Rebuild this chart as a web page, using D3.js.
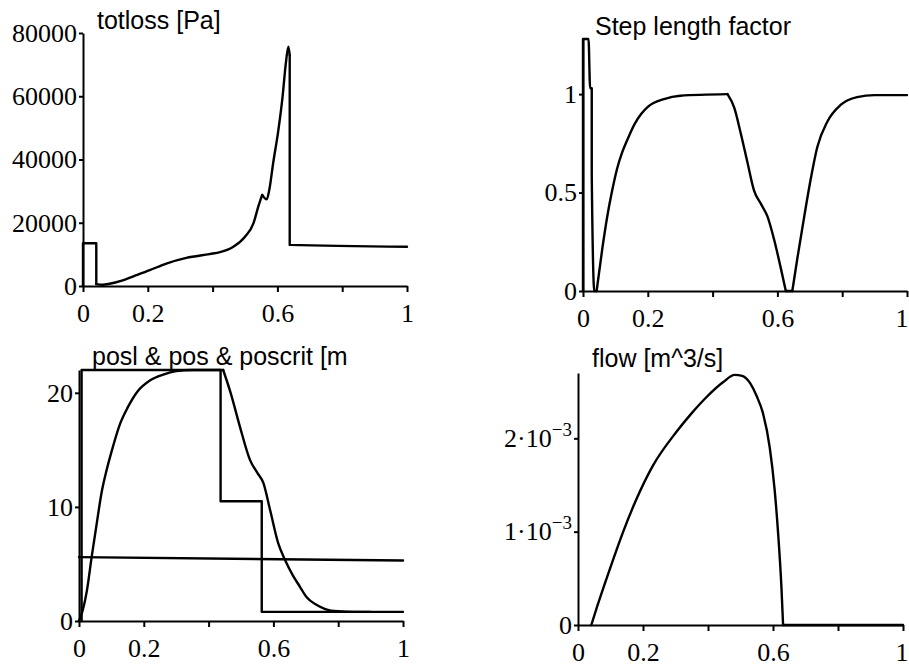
<!DOCTYPE html>
<html>
<head>
<meta charset="utf-8">
<script src="https://cdn.jsdelivr.net/npm/d3@7"></script>
<style>
  body { margin: 0; background: #fff; }
  svg { display: block; }
  .tick text { font-family: 'Liberation Serif', 'Times New Roman', serif; font-size: 26px; fill: #000; }
  .title { font-family: 'Liberation Sans', Arial, sans-serif; font-size: 25px; fill: #000; }
</style>
</head>
<body>
<div class="dashboard"></div>
<script>
// x axis is shared by all four panels
const xTicks = [0, 0.2, 0.4, 0.6, 0.8, 1];
const xTickLabels = ['0', '0.2', '', '0.6', '', '1'];

// every series is a list of pieces, each piece is drawn smooth,
// corners sit where one piece ends and the next one starts

// totloss [Pa]
const totlossTicks = [0, 20000, 40000, 60000, 80000];
const totlossLabels = ['0', '20000', '40000', '60000', '80000'];
const totloss = [
  [[0, 0], [0, 13500], [0.041, 13500], [0.041, 600]],
  [[0.041, 600], [0.06, 400], [0.082, 700], [0.12, 1700], [0.154, 3000], [0.206, 5000],
   [0.257, 7100], [0.319, 8900], [0.391, 10100], [0.423, 10700], [0.464, 12400],
   [0.5, 15600], [0.526, 19800], [0.541, 25100], [0.553, 28800]],
  [[0.553, 28800], [0.567, 27400], [0.575, 30400], [0.587, 38900], [0.603, 49300],
   [0.616, 59900], [0.626, 70400], [0.634, 75700], [0.638, 73000]],
  [[0.638, 73000], [0.638, 13000], [1, 12400]]
];

// Step length factor
const stepTicks = [0, 0.5, 1];
const stepLabels = ['0', '0.5', '1'];
const stepFactor = [
  [[0, 0], [0, 1.28], [0.017, 1.28], [0.022, 1.03], [0.027, 1.03], [0.027, 0.59],
   [0.035, 0], [0.042, 0]],
  [[0.042, 0], [0.06, 0.22], [0.075, 0.38], [0.09, 0.51], [0.105, 0.62], [0.12, 0.7],
   [0.14, 0.78], [0.16, 0.85], [0.18, 0.9], [0.2, 0.935], [0.25, 0.975], [0.3, 0.992],
   [0.446, 1.0]],
  [[0.446, 1.0], [0.467, 0.93], [0.487, 0.8], [0.508, 0.65], [0.528, 0.51], [0.55, 0.44],
   [0.569, 0.38], [0.59, 0.26], [0.61, 0.12], [0.626, 0]],
  [[0.626, 0], [0.646, 0]],
  [[0.646, 0], [0.662, 0.17], [0.682, 0.37], [0.703, 0.57], [0.723, 0.73], [0.754, 0.86],
   [0.795, 0.945], [0.846, 0.985], [0.9, 0.995], [1, 0.995]]
];

// posl & pos & poscrit [m]
const posTicks = [0, 10, 20];
const posLabels = ['0', '10', '20'];
const posl = [
  [[0.008, 0], [0.008, 22], [0.437, 22], [0.437, 10.5], [0.564, 10.5],
   [0.564, 0.8], [1, 0.8]]
];
const pos = [
  [[0, 0], [0.012, 1], [0.024, 2.6], [0.039, 5.6], [0.055, 8.6], [0.07, 11.3],
   [0.085, 13.2], [0.1, 14.8], [0.127, 17.3], [0.15, 18.7], [0.18, 20.1],
   [0.22, 21.1], [0.26, 21.6], [0.3, 21.9], [0.35, 22], [0.445, 22]],
  [[0.445, 22], [0.468, 20], [0.497, 17], [0.528, 14.1], [0.55, 13], [0.569, 12.1],
   [0.59, 9.7], [0.615, 6.8], [0.636, 5.35], [0.66, 4], [0.682, 3.0], [0.702, 2.1],
   [0.734, 1.4], [0.76, 1.05], [0.8, 0.85], [0.85, 0.8], [0.9, 0.8]]
];
const poscrit = [[[0, 5.6], [1, 5.3]]];

// flow [m^3/s]
const flowTicks = [0, 0.001, 0.002];
const flowLabels = [['0', ''], ['1·10', '−3'], ['2·10', '−3']];
const flow = [
  [[0.041, 0], [0.06, 0.00021], [0.087, 0.00049], [0.11, 0.00072], [0.138, 0.00099],
   [0.18, 0.00135], [0.231, 0.00171], [0.303, 0.00207], [0.35, 0.00227],
   [0.395, 0.00244], [0.446, 0.0026], [0.482, 0.00268], [0.505, 0.00267],
   [0.528, 0.0026], [0.55, 0.00245], [0.569, 0.00227], [0.59, 0.0019],
   [0.605, 0.00145], [0.615, 0.00102], [0.626, 0.0004], [0.631, 0]],
  [[0.631, 0], [1, 0]]
];

const svgWidth = 909,
  svgHeight = 670;

const svg = d3.select('.dashboard')
  .append('svg')
  .attr('width', svgWidth)
  .attr('height', svgHeight);

function drawPanel(p) {
  const x = d3.scaleLinear().domain([0, 1]).range([p.left, p.right]);
  const y = d3.scaleLinear().domain([0, p.yMax]).range([p.bottom, p.top]);

  const xAxis = d3.axisBottom(x)
    .tickValues(xTicks)
    .tickFormat((d, i) => xTickLabels[i])
    .tickSize(6)
    .tickSizeOuter(0)
    .tickPadding(12);

  const yAxis = d3.axisLeft(y)
    .tickValues(p.yTicks)
    .tickFormat((d, i) => p.rich ? '' : p.yLabels[i])
    .tickSize(4)
    .tickSizeOuter(0)
    .tickPadding(2);

  const gx = svg.append('g')
    .attr('transform', `translate(0, ${p.bottom})`)
    .call(xAxis);

  const gy = svg.append('g')
    .attr('transform', `translate(${p.left}, 0)`)
    .call(yAxis);

  [gx, gy].forEach(g => {
    g.select('.domain').attr('stroke', '#000').attr('stroke-width', 2);
    g.selectAll('.tick line').attr('stroke', '#000').attr('stroke-width', 2);
  });

  // keep the last x label inside the page when the axis ends at the edge
  if (p.right + 8 > svgWidth) {
    gx.selectAll('.tick text')
      .filter(d => d === 1)
      .attr('text-anchor', 'end')
      .attr('x', svgWidth - p.right - 1);
  }

  // labels like 2·10^-3 need a superscript
  if (p.rich) {
    gy.selectAll('.tick text').each(function(d, i) {
      const t = d3.select(this);
      t.append('tspan').text(p.yLabels[i][0]);
      if (p.yLabels[i][1]) {
        t.append('tspan')
          .attr('dy', '-0.6em')
          .style('font-size', '19px')
          .text(p.yLabels[i][1]);
      }
    });
  }

  svg.append('text')
    .attr('class', 'title')
    .attr('x', p.titleX)
    .attr('y', p.titleY)
    .text(p.title);

  const line = d3.line()
    .x(d => x(d[0]))
    .y(d => y(d[1]))
    .curve(d3.curveMonotoneX);

  p.series.forEach(pieces => {
    pieces.forEach(piece => {
      svg.append('path')
        .datum(piece)
        .attr('fill', 'none')
        .attr('stroke', '#000')
        .attr('stroke-width', 2.4)
        .attr('stroke-linejoin', 'round')
        .attr('stroke-linecap', 'round')
        .attr('d', line);
    });
  });
}

drawPanel({
  left: 83, right: 407, bottom: 286, top: 33, yMax: 80000,
  yTicks: totlossTicks, yLabels: totlossLabels,
  title: 'totloss [Pa]', titleX: 97, titleY: 29,
  series: [totloss]
});

drawPanel({
  left: 583, right: 907, bottom: 291, top: 39, yMax: 1.28,
  yTicks: stepTicks, yLabels: stepLabels,
  title: 'Step length factor', titleX: 595, titleY: 35,
  series: [stepFactor]
});

drawPanel({
  left: 79, right: 403, bottom: 621, top: 370, yMax: 22,
  yTicks: posTicks, yLabels: posLabels,
  title: 'posl & pos & poscrit [m', titleX: 92, titleY: 365,
  series: [posl, pos, poscrit]
});

drawPanel({
  left: 578, right: 903, bottom: 625, top: 373, yMax: 0.0027,
  yTicks: flowTicks, yLabels: flowLabels, rich: true,
  title: 'flow [m^3/s]', titleX: 592, titleY: 367,
  series: [flow]
});
</script>
</body>
</html>
